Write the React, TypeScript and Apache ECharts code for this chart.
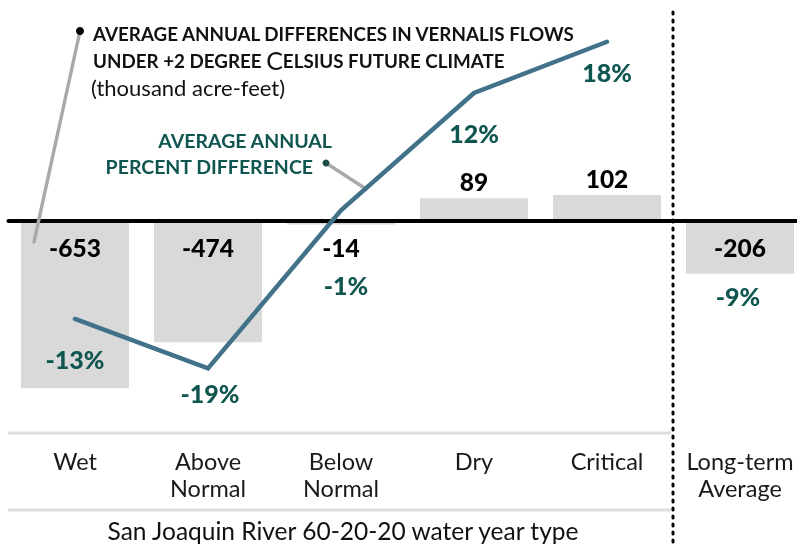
import React, { useEffect, useRef } from "react";
import * as echarts from "echarts";

const categories = ["Wet", "Above\nNormal", "Below\nNormal", "Dry", "Critical", "Long-term\nAverage"];
const flowDiff = [-653, -474, -14, 89, 102, -206];
const pctDiff = [-13.4, -19.0, -1.1, 12.2, 18.0];
const longTermPct = -9;
const pctLabelOffsets = [[0, 40], [2, 25], [5, 75], [0, 40], [0, 30]];

const FONT = "Lato";
const TEAL = "#0f5550";
const LINE = "#41728a";

export default function App() {
  const ref = useRef<HTMLDivElement>(null);
  useEffect(() => {
    const chart = echarts.init(ref.current!, null, { renderer: "svg" });
    const barData = flowDiff.map((v) => ({
      value: v,
      label: v >= 0 ? { position: "top", distance: 4 } : { position: "insideTop", distance: 13.5 },
    }));
    const lineData = pctDiff.map((v, i) => ({ value: v, label: { offset: pctLabelOffsets[i] } }));
    const ltData = categories.map((_, i) => (i === categories.length - 1 ? longTermPct : "-"));
    chart.setOption({
      animation: false,
      grid: { left: 8.5, width: 798, top: 0, height: 447, containLabel: false, outerBoundsMode: "none" },
      xAxis: [
        {
          type: "category",
          data: categories,
          z: 3,
          axisLine: { onZero: true, onZeroAxisIndex: 0, lineStyle: { color: "#000", width: 4 } },
          axisTick: { show: false },
          axisLabel: { show: false },
        },
        {
          type: "category",
          data: categories,
          position: "bottom",
          axisLine: { show: false, onZero: false },
          axisTick: { show: false },
          axisLabel: {
            interval: 0,
            margin: 0,
            fontFamily: FONT,
            fontSize: 23.5,
            lineHeight: 27,
            color: "#1a1a1a",
          },
        },
      ],
      yAxis: [
        { type: "value", min: -882.8, max: 863.3, show: false, splitLine: { show: false } },
        { type: "value", min: -27.9, max: 22.73, show: false, splitLine: { show: false } },
      ],
      series: [
        {
          type: "bar",
          data: barData,
          barWidth: 108,
          itemStyle: { color: "#d9d9d9" },
          z: 2,
          label: {
            show: true,
            fontFamily: FONT,
            fontWeight: 900,
            fontSize: 24.5,
            color: "#000",
          },
        },
        {
          type: "line",
          yAxisIndex: 1,
          data: lineData,
          z: 5,
          symbol: "circle",
          symbolSize: 0.1,
          lineStyle: { color: LINE, width: 4.5, cap: "round", join: "miter" },
          itemStyle: { color: LINE },
          label: {
            show: true,
            position: "inside",
            fontFamily: FONT,
            fontWeight: 900,
            fontSize: 25,
            color: TEAL,
            formatter: (p: any) => Math.round(p.value) + "%",
          },
        },
        {
          type: "scatter",
          yAxisIndex: 1,
          data: ltData,
          symbolSize: 0,
          z: 5,
          itemStyle: { color: TEAL, opacity: 1 },
          label: {
            show: true,
            position: "inside",
            offset: [-2, 16],
            fontFamily: FONT,
            fontWeight: 900,
            fontSize: 25,
            color: TEAL,
            opacity: 1,
            formatter: (p: any) => Math.round(p.value) + "%",
          },
        },
      ],
      graphic: [
        { type: "line", z: 1, shape: { x1: 8, y1: 433, x2: 671, y2: 433 }, style: { stroke: "#dddddd", lineWidth: 3 } },
        { type: "line", z: 1, shape: { x1: 8, y1: 510, x2: 671, y2: 510 }, style: { stroke: "#dddddd", lineWidth: 3 } },
        {
          type: "line",
          z: 6,
          shape: { x1: 673, y1: 12, x2: 673, y2: 544 },
          style: { stroke: "#000", lineWidth: 3, lineDash: [2, 6], lineCap: "round" },
        },
        {
          type: "line",
          z: 4,
          shape: { x1: 80, y1: 31, x2: 34, y2: 242 },
          style: { stroke: "#a9a9a9", lineWidth: 3.5, lineCap: "round" },
        },
        { type: "circle", z: 4, shape: { cx: 80, cy: 31, r: 4 }, style: { fill: "#000" } },
        {
          type: "line",
          z: 4,
          shape: { x1: 326, y1: 163, x2: 366, y2: 189 },
          style: { stroke: "#a9a9a9", lineWidth: 3.5, lineCap: "round" },
        },
        { type: "circle", z: 4, shape: { cx: 326, cy: 163, r: 3.5 }, style: { fill: "#1d4f4a" } },
        {
          type: "text",
          z: 6,
          x: 93,
          y: 33,
          style: {
            text: "AVERAGE ANNUAL DIFFERENCES IN VERNALIS FLOWS",
            fontFamily: FONT,
            fontWeight: "bold",
            fontSize: 18.8,
            fill: "#111",
            verticalAlign: "middle",
            align: "left",
          },
        },
        {
          type: "text",
          z: 6,
          x: 93,
          y: 60,
          style: {
            text: "{s|UNDER +2 DEGREE }{b|C}{s|ELSIUS FUTURE CLIMATE}",
            verticalAlign: "middle",
            align: "left",
            rich: {
              s: { fontFamily: FONT, fontWeight: "bold", fontSize: 18.8, fill: "#111" },
              b: { fontFamily: FONT, fontWeight: "normal", fontSize: 25, fill: "#111" },
            },
          },
        },
        {
          type: "text",
          z: 6,
          x: 91,
          y: 87,
          style: {
            text: "(thousand acre-feet)",
            fontFamily: FONT,
            fontSize: 22,
            fill: "#111",
            verticalAlign: "middle",
            align: "left",
          },
        },
        {
          type: "text",
          z: 6,
          x: 332,
          y: 140,
          style: {
            text: "AVERAGE ANNUAL",
            fontFamily: FONT,
            fontWeight: "bold",
            fontSize: 19.5,
            fill: TEAL,
            verticalAlign: "middle",
            align: "right",
          },
        },
        {
          type: "text",
          z: 6,
          x: 313,
          y: 166,
          style: {
            text: "PERCENT DIFFERENCE",
            fontFamily: FONT,
            fontWeight: "bold",
            fontSize: 19.5,
            fill: TEAL,
            verticalAlign: "middle",
            align: "right",
          },
        },
        {
          type: "text",
          z: 6,
          x: 343,
          y: 530,
          style: {
            text: "San Joaquin River 60-20-20 water year type",
            fontFamily: FONT,
            fontSize: 24.5,
            fill: "#111",
            verticalAlign: "middle",
            align: "center",
          },
        },
      ],
    });
    return () => chart.dispose();
  }, []);
  return <div ref={ref} style={{ position: "fixed", left: 0, top: 0, width: 797, height: 544 }} />;
}
